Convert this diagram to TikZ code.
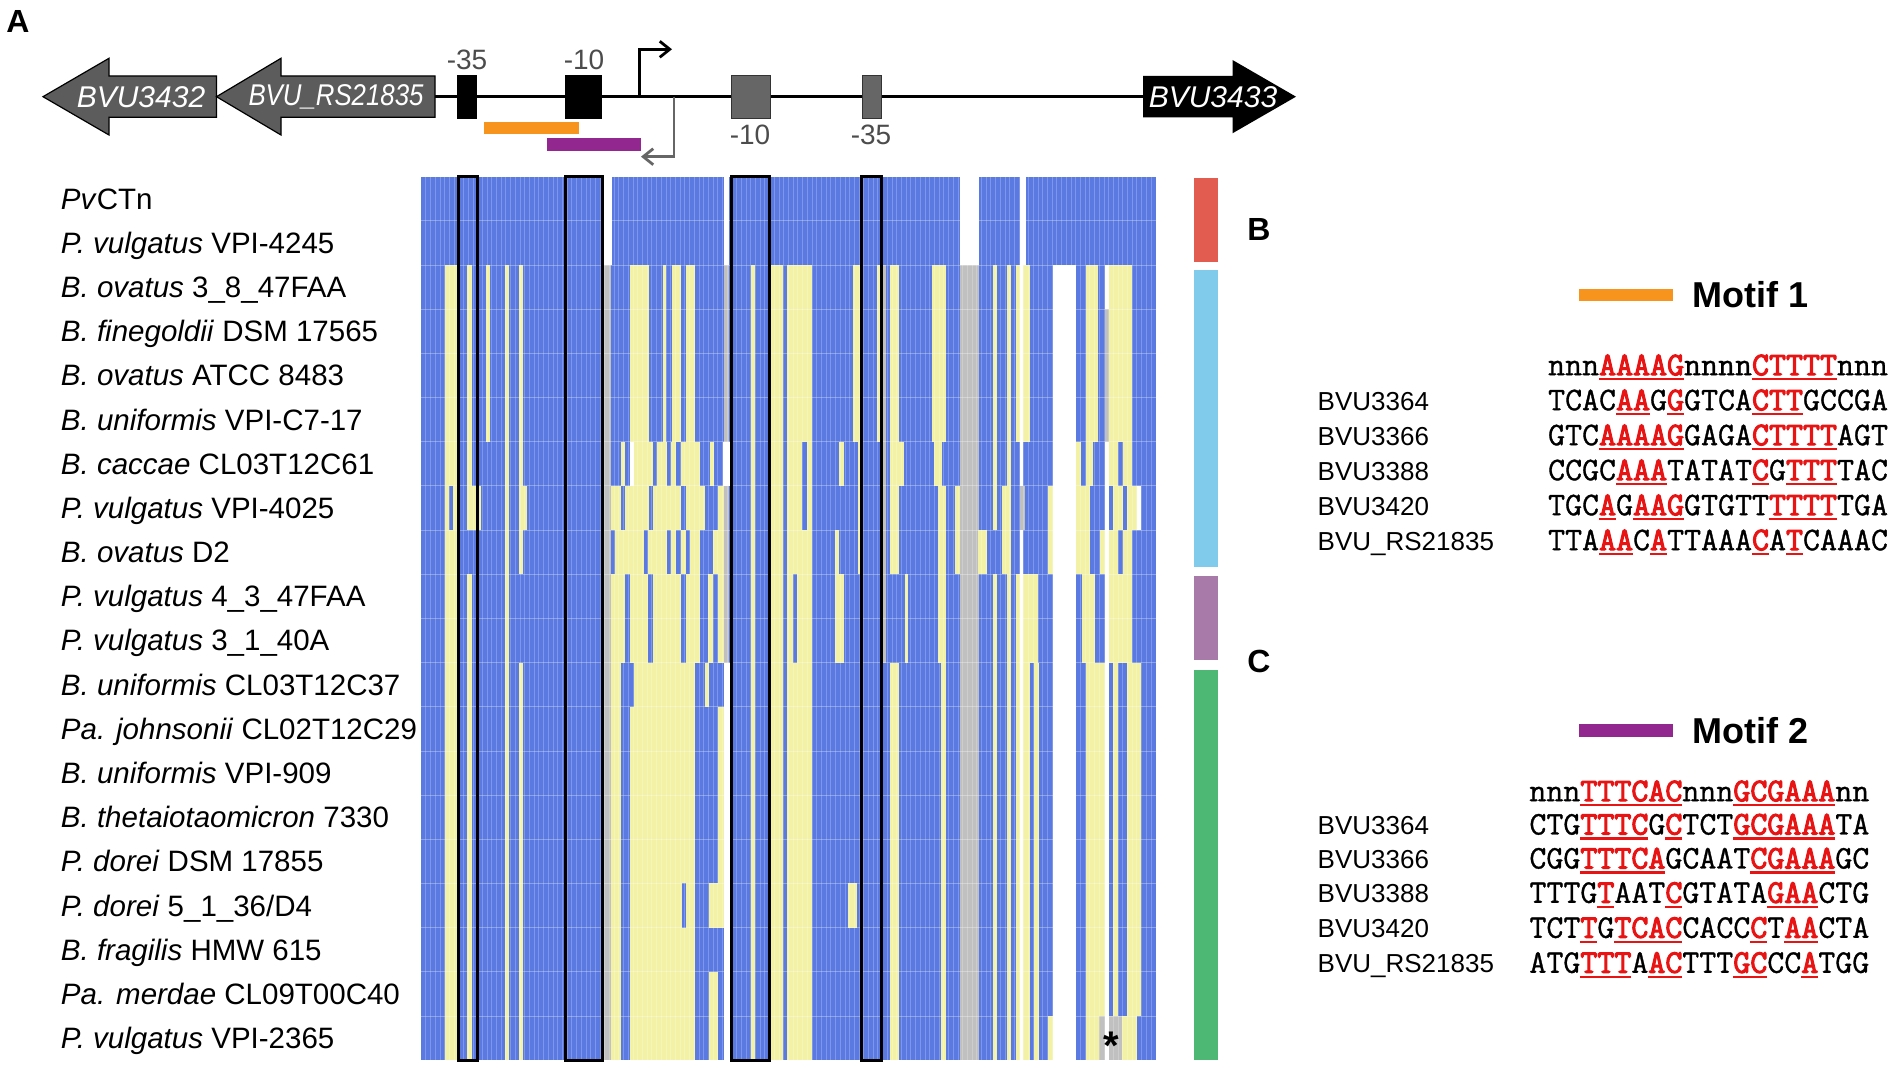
\documentclass[tikz,border=0pt]{standalone}
\usepackage{fontspec}
\setmainfont{Liberation Sans}
\newfontfamily\seqfont{Latin Modern Mono}[FakeBold=1.0, BoldFont={Latin Modern Mono}, BoldFeatures={FakeBold=3.2}]
\usetikzlibrary{arrows.meta}
\definecolor{hmblue}{RGB}{90,122,226}
\definecolor{hmyellow}{RGB}{243,241,166}
\definecolor{hmgray}{RGB}{192,192,192}
\definecolor{genegray}{RGB}{92,92,92}
\definecolor{motifone}{RGB}{247,148,29}
\definecolor{motiftwo}{RGB}{146,39,143}
\definecolor{grpred}{RGB}{226,92,80}
\definecolor{grpblue}{RGB}{128,202,236}
\definecolor{grppurple}{RGB}{168,122,170}
\definecolor{grpgreen}{RGB}{76,184,116}
\definecolor{seqred}{RGB}{232,20,20}
\newcommand\mk[1]{{\color{seqred}\bfseries\setbox0\hbox{#1}\rlap{\rule[-2.6pt]{\wd0}{1.1pt}}\box0}}
\tikzset{
  rowlab/.style={anchor=base west, inner sep=0pt, font=\fontsize{14.75}{17}\selectfont},
  genelab/.style={text=white, font=\fontsize{15}{17}\selectfont\itshape},
  boxlab/.style={text=black!70, font=\fontsize{14}{16}\selectfont},
  panel/.style={font=\fontsize{16}{18}\selectfont\bfseries},
  motiflab/.style={anchor=west, inner sep=0pt, font=\fontsize{18}{20}\selectfont\bfseries},
  seqname/.style={anchor=base west, inner sep=0pt, font=\fontsize{13}{15}\selectfont},
  seq/.style={anchor=base west, inner sep=0pt, font=\fontsize{16.5}{18}\selectfont\seqfont},
  hlbox/.style={draw=black, line width=1.5pt},
}
\begin{document}
\begin{tikzpicture}[x=0.5pt,y=-0.5pt]
\useasboundingbox (0,0) rectangle (1902,1068);
\node[panel] (pA) at (18,22) {A};
\node[panel] (pB) at (1259,230) {B};
\node[panel] (pC) at (1259,661) {C};
% gene map
\draw[line width=1.4pt] (435,96.7) -- (1143,96.7);
\draw[fill=genegray, line width=.6pt] (216.5,76) -- (109,76) -- (109,58.3) -- (43,96.7) -- (109,135) -- (109,117.3) -- (216.5,117.3) -- cycle;
\draw[fill=genegray, line width=.6pt] (435,76) -- (281,76) -- (281,58.3) -- (216.5,96.7) -- (281,135) -- (281,117.3) -- (435,117.3) -- cycle;
\fill[black] (1143,76) -- (1232.5,76) -- (1232.5,60) -- (1296,96.7) -- (1232.5,133.3) -- (1232.5,117.3) -- (1143,117.3) -- cycle;
\node[genelab] (g3432) at (141,96.7) {BVU3432};
\node[genelab] (g21835) at (336,96.7) {\scalebox{0.86}[1]{BVU\_RS21835}};
\node[genelab] (g3433) at (1213,96.7) {BVU3433};
\draw[fill=black] (457.6,75) rectangle (476.3,118.3);
\draw[fill=black] (565.6,75) rectangle (601.8,118.3);
\draw[fill=black!60, draw=black!80] (731,75) rectangle (770,118.3);
\draw[fill=black!60, draw=black!80] (862,75) rectangle (881,118.3);
\node[boxlab] (l35a) at (467,60) {-35};
\node[boxlab] (l10a) at (584,60) {-10};
\node[boxlab] (l10b) at (750,135) {-10};
\node[boxlab] (l35b) at (871,135) {-35};
\coordinate (tssA) at (639.3,96.7);
\coordinate (tssAend) at (672,49.3);
\coordinate (tssB) at (674,96.7);
\coordinate (tssBend) at (641,156.7);
\draw[line width=1.4pt, -{Straight Barb[length=5pt,width=8pt]}] (tssA) |- (tssAend);
\draw[black!60, line width=1.4pt, -{Straight Barb[length=5pt,width=8pt]}] (tssB) |- (tssBend);
\fill[motifone] (484.3,121.7) rectangle (579,134.3);
\fill[motiftwo] (547,138.3) rectangle (640.6,150.7);
% heatmap
\fill[hmblue] (421,176.7) rectangle (1155.6,1060);
\foreach \xa/\xb in {603.3/611.7, 723.5/728.5, 960/979, 1020/1025.7}
  \fill[white] (\xa,176.7) rectangle (\xb,265);
\foreach \xa/\xb/\ra/\rb/\c in {
  445/456.7/3/7/hmyellow, 445/449.3/8/8/hmyellow, 453.3/456.7/8/8/hmyellow, 445/456.7/9/20/hmyellow,
  467.3/471.7/3/7/hmyellow, 467.3/480.7/8/8/hmyellow, 467.3/471.7/10/20/hmyellow,
  486/490/3/6/hmyellow, 505/509.3/3/20/hmyellow,
  519/523.3/3/7/hmyellow, 519/527.3/8/8/hmyellow, 519/523.3/9/9/hmyellow, 519/523.3/12/20/hmyellow,
  604/611/3/20/hmgray,
  630.3/648.7/3/6/hmyellow, 663/666.3/3/6/hmyellow, 672/680.7/3/6/hmyellow, 685.7/694.7/3/6/hmyellow,
  620.7/624.7/7/7/hmyellow, 629.7/634/7/7/white, 634/653/7/7/hmyellow, 657.3/667.3/7/7/hmyellow,
  671.3/676.3/7/7/hmyellow, 680.7/699.7/7/7/hmyellow, 709.7/714/7/7/hmyellow,
  611.3/620.7/8/8/hmyellow, 624.7/648.7/8/8/hmyellow, 653/680.7/8/8/hmyellow, 685.7/704.7/8/8/hmyellow, 718/723.5/8/8/hmyellow,
  615.3/644/9/9/hmyellow, 648/667.3/9/9/hmyellow, 671.3/676.3/9/9/hmyellow, 680.7/685.7/9/9/hmyellow,
  689.7/699.7/9/9/hmyellow, 713/723.5/9/9/hmyellow,
  611.3/624.7/10/11/hmyellow, 629.7/648/10/11/hmyellow, 653/680.7/10/11/hmyellow, 685.7/699.7/10/11/hmyellow,
  708/713/10/11/hmyellow, 718/723.5/10/11/hmyellow,
  611.3/620.7/12/20/hmyellow, 634/694.7/12/12/hmyellow, 705/709/12/12/hmyellow,
  630/695/13/20/hmyellow, 681.7/686/17/17/hmblue,
  718.3/723.5/13/16/hmyellow, 709/723.5/17/17/hmyellow, 709/718.3/19/20/hmyellow,
  723.5/728.5/3/6/hmgray, 723/731/7/7/white, 723.5/728.5/8/11/hmgray, 723.5/730/12/20/white,
  750.7/755/3/20/hmyellow, 770/783.3/3/20/hmyellow, 787.3/811.7/3/20/hmyellow,
  802.3/806.7/7/8/hmblue, 793/797/10/11/hmblue,
  839.3/844/7/7/hmyellow, 835/839.3/9/9/hmyellow, 835/844/10/11/hmyellow, 848.3/857.3/17/17/hmyellow,
  853.3/861.7/3/6/hmyellow, 857.7/861.7/7/9/hmyellow, 877/880/3/6/hmyellow,
  881.7/886/3/11/hmgray,
  890/899/3/6/hmyellow, 890/904/7/7/hmyellow, 890/899/8/9/hmyellow, 905/908/10/11/hmyellow, 890/899/12/20/hmyellow,
  932.3/945.7/3/6/hmyellow, 934.3/941.7/7/7/hmyellow, 937.7/945.7/8/11/hmyellow, 941/945.7/12/20/hmyellow,
  955/960/8/9/hmyellow, 960/979/3/20/hmgray, 978.3/986.7/9/9/hmyellow,
  992.7/996.7/3/8/hmyellow, 992.7/996.7/10/20/hmyellow,
  1006.7/1010.7/3/7/hmyellow, 1001.7/1010.7/8/9/hmyellow, 1006.7/1010.7/10/20/hmyellow,
  1015.7/1020/3/6/hmyellow, 1022.7/1030/3/6/hmyellow,
  1048.3/1053.3/8/9/hmyellow,
  1015.7/1020/10/20/hmyellow, 1023/1030/10/20/hmyellow, 1030/1038.3/10/11/hmyellow, 1034/1039.3/12/20/hmyellow,
  1048.3/1052.7/20/20/hmyellow,
  1020/1023/3/7/white, 1020/1025/8/8/hmgray, 1020/1023/9/20/white,
  1053.3/1076/3/20/white,
  1086/1098.3/3/6/hmyellow, 1108.5/1131.7/3/6/hmyellow, 1105/1108.5/3/3/white, 1105/1108.5/4/6/hmgray,
  1076/1080.7/7/7/hmyellow, 1086/1093.3/7/7/hmyellow, 1108.5/1118.3/7/7/hmyellow, 1122.7/1131.7/7/7/hmyellow,
  1076/1090/8/9/hmyellow, 1113/1122.7/8/8/hmyellow, 1126.7/1136.7/8/8/hmyellow, 1136.7/1140.7/8/8/white,
  1100/1105/9/9/hmyellow, 1108.5/1118.3/9/9/hmyellow, 1122.7/1131.7/9/9/hmyellow,
  1081.7/1095/10/11/hmyellow, 1109.3/1131.7/10/11/hmyellow,
  1086/1105/12/19/hmyellow, 1113.3/1118.3/12/19/hmyellow, 1126.7/1141/12/19/hmyellow,
  1086/1099.3/20/20/hmyellow, 1099.3/1122.3/20/20/hmgray, 1122.3/1137.3/20/20/hmyellow,
  1105/1108.5/7/20/white}
  \fill[\c] (\xa,{176.7+44.17*(\ra-1)}) rectangle (\xb,{176.7+44.17*\rb});
\foreach \i in {1,...,155}
  \draw[white, opacity=.22, line width=.3pt] ({421+4.709*\i},176.7) -- ({421+4.709*\i},1060);
\foreach \r in {1,...,19}
  \draw[white, opacity=.3, line width=.4pt] (421,{176.7+44.17*\r}) -- (1155.6,{176.7+44.17*\r});
\draw[hlbox] (458.3,177) rectangle (477.7,1060);
\draw[hlbox] (565,177) rectangle (602.7,1060);
\draw[hlbox] (731.7,177) rectangle (769.3,1060);
\draw[hlbox] (861.7,177) rectangle (881.7,1060);
\node (star) at (1111,1046) {\fontsize{20}{20}\selectfont\bfseries *};
\fill[grpred] (1194,178) rectangle (1218,262);
\fill[grpblue] (1194,270) rectangle (1218,567);
\fill[grppurple] (1194,576) rectangle (1218,660);
\fill[grpgreen] (1194,670) rectangle (1218,1060);
\foreach \lab [count=\i] in {{\textit{Pv}CTn}, {\textit{P. vulgatus} VPI-4245}, {\textit{B. ovatus} 3\_8\_47FAA},
  {\textit{B. finegoldii} DSM 17565}, {\textit{B. ovatus} ATCC 8483}, {\textit{B. uniformis} VPI-C7-17},
  {\textit{B. caccae} CL03T12C61}, {\textit{P. vulgatus} VPI-4025}, {\textit{B. ovatus} D2},
  {\textit{P. vulgatus} 4\_3\_47FAA}, {\textit{P. vulgatus} 3\_1\_40A}, {\textit{B. uniformis} CL03T12C37},
  {\textit{Pa. johnsonii} CL02T12C29}, {\textit{B. uniformis} VPI-909}, {\textit{B. thetaiotaomicron} 7330},
  {\textit{P. dorei} DSM 17855}, {\textit{P. dorei} 5\_1\_36/D4}, {\textit{B. fragilis} HMW 615},
  {\textit{Pa. merdae} CL09T00C40}, {\textit{P. vulgatus} VPI-2365}}
  \node[rowlab] (org\i) at (60.6,{176.7+44.17*(\i-0.5)+10.5}) {\lab};
% motif 1
\fill[motifone] (1579,289) rectangle (1673,301);
\node[motiflab] (mot1) at (1692,295) {Motif 1};
\node[seq] (cons1) at (1547.7,375.2) {nnn\mk{AAAAG}nnnn\mk{CTTTT}nnn};
\node[seqname] (n1a) at (1317.3,410.2) {BVU3364};
\node[seqname] (n1b) at (1317.3,445.2) {BVU3366};
\node[seqname] (n1c) at (1317.3,480.2) {BVU3388};
\node[seqname] (n1d) at (1317.3,515.2) {BVU3420};
\node[seqname] (n1e) at (1317.3,550.2) {BVU\_RS21835};
\node[seq] (s1a) at (1547.7,410.2) {TCAC\mk{AA}G\mk{G}GTCA\mk{CTT}GCCGA};
\node[seq] (s1b) at (1547.7,445.2) {GTC\mk{AAAAG}GAGA\mk{CTTTT}AGT};
\node[seq] (s1c) at (1547.7,480.2) {CCGC\mk{AAA}TATAT\mk{C}G\mk{TTT}TAC};
\node[seq] (s1d) at (1547.7,515.2) {TGC\mk{A}G\mk{AAG}GTGTT\mk{TTTT}TGA};
\node[seq] (s1e) at (1547.7,550.2) {TTA\mk{AA}C\mk{A}TTAAA\mk{C}A\mk{T}CAAAC};
% motif 2
\fill[motiftwo] (1579,724) rectangle (1673,737.3);
\node[motiflab] (mot2) at (1692,730.7) {Motif 2};
\node[seq] (cons2) at (1529,801.2) {nnn\mk{TTTCAC}nnn\mk{GCGAAA}nn};
\node[seqname] (n2a) at (1317.3,834.5) {BVU3364};
\node[seqname] (n2b) at (1317.3,868.5) {BVU3366};
\node[seqname] (n2c) at (1317.3,902.8) {BVU3388};
\node[seqname] (n2d) at (1317.3,937.8) {BVU3420};
\node[seqname] (n2e) at (1317.3,972.8) {BVU\_RS21835};
\node[seq] (s2a) at (1529,834.5) {CTG\mk{TTTC}G\mk{C}TCT\mk{GCGAAA}TA};
\node[seq] (s2b) at (1529,868.5) {CGG\mk{TTTCA}GCAAT\mk{CGAAA}GC};
\node[seq] (s2c) at (1529,902.8) {TTTG\mk{T}AAT\mk{C}GTATA\mk{GAA}CTG};
\node[seq] (s2d) at (1529,937.8) {TCT\mk{T}G\mk{TCAC}CACC\mk{C}T\mk{AA}CTA};
\node[seq] (s2e) at (1529,972.8) {ATG\mk{TTT}A\mk{AC}TTT\mk{GC}CC\mk{A}TGG};
\end{tikzpicture}
\end{document}
